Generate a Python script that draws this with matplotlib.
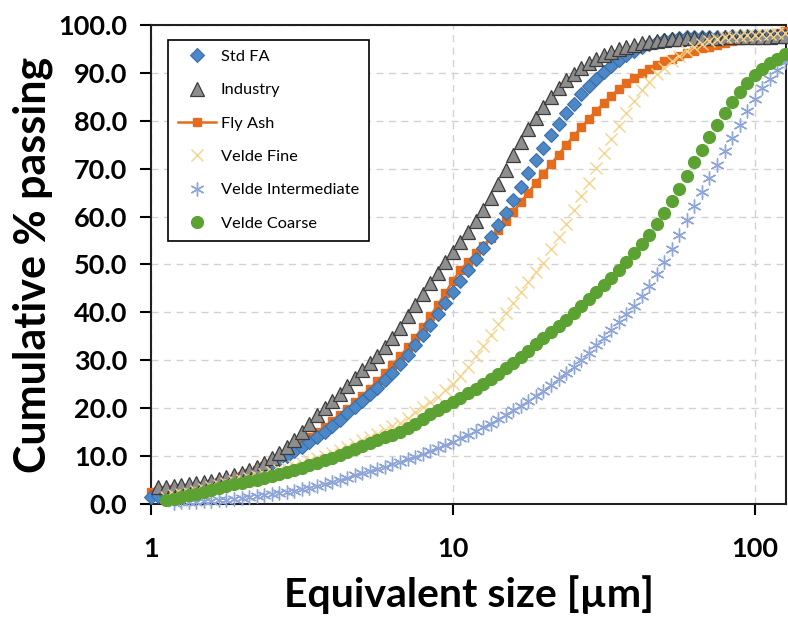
import numpy as np
import matplotlib
matplotlib.use("Agg")
import matplotlib.pyplot as plt
from matplotlib.ticker import FixedLocator, FormatStrFormatter, NullLocator

plt.rcParams['font.family'] = ['Lato', 'DejaVu Sans']

# size classes [um]
size_um = [1.000, 1.059, 1.122, 1.189, 1.259, 1.334, 1.413, 1.496, 1.585, 1.679,
           1.778, 1.884, 1.995, 2.113, 2.239, 2.371, 2.512, 2.661, 2.818, 2.985,
           3.162, 3.350, 3.548, 3.758, 3.981, 4.217, 4.467, 4.732, 5.012, 5.309,
           5.623, 5.957, 6.310, 6.683, 7.079, 7.499, 7.943, 8.414, 8.913, 9.441,
           10.00, 10.59, 11.22, 11.89, 12.59, 13.34, 14.13, 14.96, 15.85, 16.79,
           17.78, 18.84, 19.95, 21.13, 22.39, 23.71, 25.12, 26.61, 28.18, 29.85,
           31.62, 33.50, 35.48, 37.58, 39.81, 42.17, 44.67, 47.32, 50.12, 53.09,
           56.23, 59.57, 63.10, 66.83, 70.79, 74.99, 79.43, 84.14, 89.13, 94.41,
           100.0, 105.9, 112.2, 118.9, 125.9]

# cumulative % passing
std_fa = [1.5, 1.7, 1.9, 2.1, 2.3, 2.6, 2.9, 3.2, 3.6, 4.0,
          4.5, 5.0, 5.5, 6.1, 6.8, 7.6, 8.5, 9.3, 10.1, 11.0,
          11.9, 12.9, 14.0, 15.1, 16.3, 17.6, 18.9, 20.2, 21.5, 22.9,
          24.3, 25.8, 27.4, 29.3, 31.2, 33.2, 35.3, 37.4, 39.6, 41.9,
          44.2, 46.5, 48.8, 51.2, 53.4, 55.7, 58.2, 60.8, 63.5, 66.2,
          69.0, 71.8, 74.4, 77.0, 79.4, 81.6, 83.6, 85.5, 87.2, 88.8,
          90.2, 91.5, 92.7, 93.7, 94.6, 95.4, 96.0, 96.5, 96.9, 97.1,
          97.3, 97.4, 97.4, 97.5, 97.5, 97.5, 97.5, 97.6, 97.6, 97.6,
          97.6, 97.6, 97.7, 97.7, 97.7]

industry = [None, 3.5, 3.6, 3.8, 3.9, 4.1, 4.3, 4.6, 4.9, 5.2,
            5.6, 6.0, 6.5, 7.1, 7.8, 8.6, 9.5, 10.6, 11.8, 13.3,
            15.0, 16.8, 18.5, 20.0, 21.5, 23.0, 24.7, 26.3, 27.9, 29.4,
            31.0, 32.7, 34.6, 36.8, 39.2, 41.6, 43.8, 46.1, 48.3, 50.5,
            52.6, 54.7, 56.8, 59.0, 61.3, 63.8, 66.8, 69.8, 72.8, 75.5,
            78.2, 80.6, 82.9, 85.0, 86.9, 88.5, 89.8, 91.0, 92.0, 92.9,
            93.7, 94.4, 95.0, 95.5, 95.9, 96.2, 96.5, 96.7, 96.9, 97.0,
            97.1, 97.2, 97.2, 97.3, 97.3, 97.3, 97.4, 97.4, 97.4, 97.5,
            97.5, 97.5, 97.5, 97.6, 97.6]

fly_ash = [2.6, 2.8, 3.0, 3.1, 3.3, 3.4, 3.6, 3.8, 4.1, 4.5,
           4.9, 5.3, 5.8, 6.4, 7.1, 7.9, 8.7, 9.6, 10.6, 11.7,
           12.8, 14.0, 15.0, 16.1, 17.4, 18.6, 19.9, 21.2, 22.6, 24.1,
           25.7, 27.3, 29.0, 30.8, 32.7, 34.7, 36.9, 39.2, 41.6, 44.0,
           46.6, 48.8, 50.6, 52.3, 53.9, 55.6, 57.3, 59.1, 61.0, 63.0,
           65.0, 67.0, 68.9, 70.9, 72.9, 74.9, 76.8, 78.6, 80.4, 82.1,
           83.7, 85.2, 86.6, 87.8, 89.0, 90.0, 90.9, 91.7, 92.4, 93.0,
           93.6, 94.1, 94.6, 95.1, 95.5, 95.9, 96.3, 96.6, 96.9, 97.2,
           97.5, 97.7, 98.0, 98.3, 98.8]

velde_fine = [None, None, 1.5, 1.8, 2.1, 2.4, 2.8, 3.2, 3.6, 4.0,
              4.4, 4.8, 5.1, 5.5, 5.9, 6.3, 6.7, 7.1, 7.5, 8.0,
              8.5, 9.0, 9.5, 10.1, 10.7, 11.3, 11.9, 12.6, 13.3, 14.0,
              14.7, 15.4, 16.2, 17.0, 18.0, 19.2, 20.3, 21.3, 22.4, 23.7,
              25.1, 26.8, 28.7, 30.8, 32.9, 35.2, 37.5, 39.8, 42.0, 44.3,
              46.4, 48.5, 50.3, 53.2, 55.8, 58.5, 61.4, 64.2, 67.1, 70.2,
              73.2, 76.1, 79.0, 81.7, 84.2, 86.4, 88.2, 89.8, 91.1, 92.4,
              93.6, 94.6, 95.4, 96.1, 96.7, 97.1, 97.4, 97.6, 97.8, 97.9,
              98.0, 98.1, 98.2, 98.3, 98.3]

velde_int = [None, None, None, 0.3, 0.4, 0.45, 0.5, 0.6, 0.7, 0.8,
             0.9, 1.0, 1.2, 1.4, 1.6, 1.8, 2.0, 2.2, 2.5, 2.8,
             3.1, 3.4, 3.8, 4.2, 4.6, 5.0, 5.5, 6.0, 6.5, 6.9,
             7.3, 7.8, 8.3, 8.8, 9.3, 9.8, 10.4, 11.0, 11.6, 12.3,
             13.0, 13.7, 14.4, 15.2, 16.0, 16.8, 17.7, 18.6, 19.6, 20.5,
             21.5, 22.5, 23.6, 24.8, 26.0, 27.3, 28.7, 30.1, 31.6, 33.1,
             34.7, 36.3, 37.9, 39.6, 41.4, 43.4, 45.6, 48.0, 50.6, 53.3,
             56.2, 59.2, 62.2, 65.1, 68.0, 70.8, 73.6, 76.4, 79.2, 82.0,
             84.5, 86.8, 88.8, 90.6, 92.2]

velde_coarse = [None, None, 0.8, 1.1, 1.4, 1.8, 2.1, 2.5, 2.9, 3.3,
                3.7, 4.1, 4.4, 4.8, 5.1, 5.5, 5.9, 6.3, 6.7, 7.2,
                7.6, 8.1, 8.6, 9.1, 9.7, 10.3, 10.9, 11.5, 12.1, 12.7,
                13.3, 13.9, 14.5, 15.1, 15.8, 16.8, 17.8, 18.7, 19.6, 20.5,
                21.3, 22.2, 23.1, 24.1, 25.1, 26.1, 27.2, 28.3, 29.5, 30.7,
                32.0, 33.3, 34.6, 35.9, 37.2, 38.5, 39.9, 41.3, 42.8, 44.2,
                45.7, 47.2, 48.8, 50.5, 52.3, 54.2, 56.2, 58.4, 60.7, 63.2,
                65.8, 68.5, 71.3, 74.0, 76.6, 79.2, 81.7, 84.0, 86.1, 87.9,
                89.5, 90.9, 92.0, 93.0, 93.9]

x = np.array(size_um)

fig = plt.figure(figsize=(7.88, 6.2), dpi=100)
ax = fig.add_axes([0.1916, 0.1871, 0.8059, 0.7726])

ax.plot(x, np.array(fly_ash, dtype=float), '-s', color='#E46C1C', lw=1.8, ms=5.5,
        label='Fly Ash', clip_on=False, zorder=3)
ax.plot(x, np.array(std_fa, dtype=float), 'D', ls='none', mfc='#4C87C6', mec='#3B6FA8',
        mew=0.8, ms=6.8, label='Std FA', clip_on=False, zorder=4)
ax.plot(x, np.array(industry, dtype=float), '^', ls='none', mfc='#8E8E8E', mec='#3C3C3C',
        mew=0.9, ms=9.5, label='Industry', clip_on=False, zorder=5)
ax.plot(x, np.array(velde_fine, dtype=float), 'x', ls='none', mec='#F5D38A',
        mew=1.0, ms=9, label='Velde Fine', clip_on=False, zorder=6)
ax.plot(x, np.array(velde_int, dtype=float), marker=(6, 2, 0), ls='none', mec='#8EA5DA',
        mew=1.0, ms=10, label='Velde Intermediate', clip_on=False, zorder=7)
ax.plot(x, np.array(velde_coarse, dtype=float), 'o', ls='none', mfc='#5BA233', mec='#5BA233',
        ms=8.5, label='Velde Coarse', clip_on=False, zorder=8)

ax.set_xscale('log')
ax.set_xlim(1, 127)
ax.set_ylim(0, 100)
ax.xaxis.set_major_locator(FixedLocator([1, 10, 100]))
ax.xaxis.set_minor_locator(NullLocator())
ax.set_xticklabels(['1', '10', '100'])
ax.yaxis.set_major_locator(FixedLocator(np.arange(0, 101, 10)))
ax.yaxis.set_major_formatter(FormatStrFormatter('%.1f'))

ax.grid(True, which='major', color='#D2D2D2', linestyle=(0, (5, 4)), lw=1.0)
ax.set_axisbelow(True)
for s in ax.spines.values():
    s.set_linewidth(1.5)
    s.set_color('#202020')

ax.tick_params(axis='both', direction='out', length=8, width=1.5, labelsize=19.5)
ax.tick_params(axis='y', pad=9)
ax.tick_params(axis='x', pad=16)
plt.setp(ax.get_xticklabels(), fontweight='bold')
plt.setp(ax.get_yticklabels(), fontweight='bold')

ax.set_xlabel('Equivalent size [µm]', fontsize=29.5, fontweight='bold', labelpad=10)
ax.set_ylabel('Cumulative % passing', fontsize=31, fontweight='bold', labelpad=4)

handles, labels = ax.get_legend_handles_labels()
order = ['Std FA', 'Industry', 'Fly Ash', 'Velde Fine', 'Velde Intermediate', 'Velde Coarse']
hl = dict(zip(labels, handles))
leg = ax.legend([hl[k] for k in order], order, loc='upper left',
                bbox_to_anchor=(0.027, 0.969), borderaxespad=0, fontsize=11.8,
                frameon=True, fancybox=False, edgecolor='black', framealpha=1,
                labelspacing=1.15, handlelength=2.3, handletextpad=0.3,
                borderpad=0.6, numpoints=1)
leg.get_frame().set_linewidth(1.2)
leg.set_zorder(10)

fig.savefig('out.png', dpi=100)
